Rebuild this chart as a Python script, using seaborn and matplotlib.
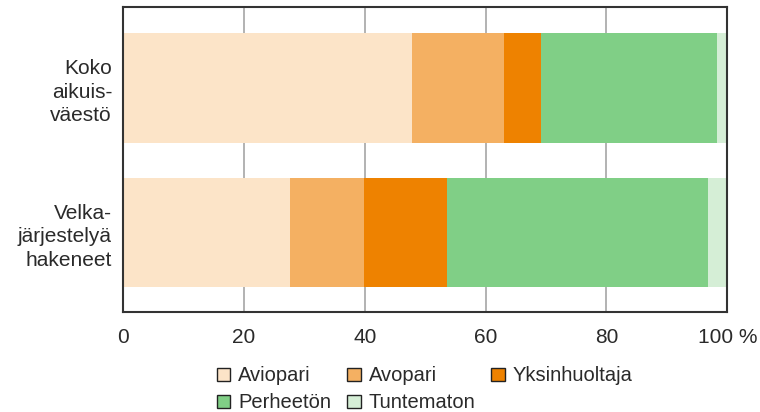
"""Stacked horizontal bars: household type, whole adult population vs. debt-restructuring applicants."""
import matplotlib
matplotlib.use("Agg")
import matplotlib.pyplot as plt
import numpy as np
import pandas as pd
import seaborn as sns
from matplotlib.patches import Patch

groups = ["Koko\naikuis-\nväestö", "Velka-\njärjestelyä\nhakeneet"]
categories = ["Aviopari", "Avopari", "Yksinhuoltaja", "Perheetön", "Tuntematon"]
aviopari = [47.8, 27.6]
avopari = [15.3, 12.3]
yksinhuoltaja = [6.1, 13.7]
perheeton = [29.1, 43.2]
tuntematon = [1.7, 3.2]
colors = ["#fce4c8", "#f4b062", "#ee8200", "#80cf86", "#d5eed6"]
xticks = [0, 20, 40, 60, 80, 100]
xtick_labels = ["0", "20", "40", "60", "80", "100 %"]

sns.set_theme(style="white")
plt.rcParams["font.family"] = ["Liberation Sans", "DejaVu Sans"]

df = pd.DataFrame(
    {
        "group": groups,
        "Aviopari": aviopari,
        "Avopari": avopari,
        "Yksinhuoltaja": yksinhuoltaja,
        "Perheetön": perheeton,
        "Tuntematon": tuntematon,
    }
)
cum = df[categories].cumsum(axis=1)
cum["group"] = df["group"]

fig = plt.figure(figsize=(7.6, 4.12), dpi=100)
ax = fig.add_axes([0.162, 0.243, 0.795, 0.740])

# draw the cumulative totals from the right so the shorter bars cover the longer ones
for cat, col in reversed(list(zip(categories, colors))):
    sns.barplot(
        data=cum, x=cat, y="group", orient="h", color=col,
        width=0.76, linewidth=0, ax=ax, saturation=1,
    )

ax.set_xlim(0, 100)
ax.set_ylim(1.55, -0.56)
ax.set_xlabel("")
ax.set_ylabel("")
ax.set_xticks(xticks)
ax.set_xticklabels(xtick_labels, fontsize=15, color="#2a2a2a")
ax.tick_params(axis="x", length=0, pad=11.5)
ax.tick_params(axis="y", length=0, labelsize=15, labelcolor="#2a2a2a", pad=8)
for lab in ax.get_yticklabels():
    lab.set_horizontalalignment("right")
    lab.set_multialignment("right")
    lab.set_linespacing(1.3)
ax.set_axisbelow(True)
ax.xaxis.grid(True, color="#a6a6a6", linewidth=1.2)
for s in ax.spines.values():
    s.set_visible(True)
    s.set_color("#333333")
    s.set_linewidth(1.5)

# legend fills column-wise, so reorder to read row by row like the original
order = [0, 3, 1, 4, 2]
handles = [Patch(facecolor=colors[i], edgecolor="#222222", linewidth=1.0, label=categories[i])
           for i in order]
fig.legend(
    handles=handles, ncol=3, loc="center", bbox_to_anchor=(0.559, 0.055),
    frameon=False, fontsize=14.5, handlelength=0.65, handleheight=0.65,
    handletextpad=0.4, columnspacing=0.8, labelspacing=0.4,
    labelcolor="#2a2a2a",
)

fig.savefig("out.png", dpi=100)
plt.close(fig)
